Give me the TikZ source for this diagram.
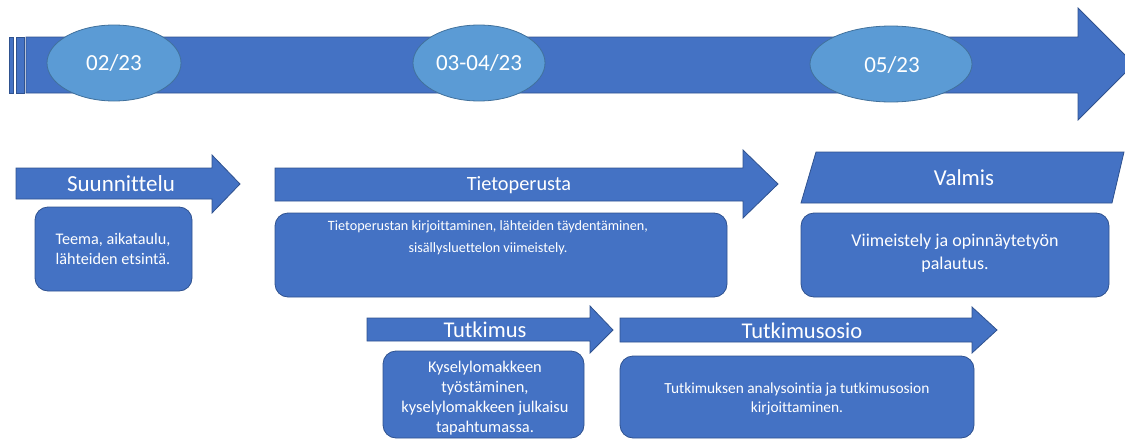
\documentclass[tikz,border=0pt]{standalone}
\usepackage{fontspec}
\setmainfont{Carlito}[Ligatures={TeX,NoCommon}]
\definecolor{boxblue}{HTML}{4472C4}
\definecolor{boxline}{HTML}{2F528F}
\definecolor{ovalblue}{HTML}{5B9BD5}
\definecolor{ovalline}{HTML}{41719C}
\begin{document}
\begin{tikzpicture}[x=1pt, y=-1pt, inner sep=0pt, outer sep=0pt,
  blk/.style={fill=boxblue, draw=boxline, line width=0.8pt, line join=miter},
  rbox/.style={blk, rounded corners=13pt},
  oval/.style={fill=ovalblue, draw=ovalline, line width=0.8pt},
  lbl/.style 2 args={text=white, align=center, font=\fontsize{#1}{#2}\selectfont}]
\clip (0,0) rectangle (1125,439);
\useasboundingbox (0,0) rectangle (1125,439);
% timeline arrow
\path[blk] (9,37) rectangle (13,93);
\path[blk] (16,37) rectangle (24,93);
\path[blk] (26,37) -- (1078,37) -- (1078,8) -- (1134,64) -- (1078,120) -- (1078,93) -- (26,93) -- cycle;
\path[oval] (114,63) ellipse (67 and 38);
\path[oval] (479,63) ellipse (66 and 38);
\path[oval] (891,64) ellipse (81 and 38);
\node[lbl={23}{27}] (d1) at (114,63) {02/23};
\node[lbl={23}{27}] (d2) at (479,63) {03-04/23};
\node[lbl={23}{27}] (d3) at (892,65) {05/23};
% phase arrows
\path[blk] (16,168) -- (212,168) -- (212,155) -- (240,184) -- (212,213) -- (212,199) -- (16,199) -- cycle;
\path[blk] (275,168) -- (743,168) -- (743,150) -- (778,184) -- (743,218) -- (743,201) -- (275,201) -- cycle;
\path[blk] (816,152) -- (1124,152) -- (1112,203) -- (801,203) -- cycle;
\path[blk] (367,318) -- (590,318) -- (590,306) -- (613,330) -- (590,353) -- (590,341) -- (367,341) -- cycle;
\path[blk] (620,318) -- (972,318) -- (972,307) -- (997,330) -- (972,353) -- (972,342) -- (620,342) -- cycle;
\node[lbl={23}{27}] (suun) at (121,184) {Suunnittelu};
\node[lbl={20.3}{24}] (tieto) at (519,185) {Tietoperusta};
\node[lbl={22.8}{27}] (valmis) at (964,178) {Valmis};
\node[lbl={22.5}{26}] (tutk) at (485,330) {Tutkimus};
\node[lbl={22.5}{26}] (osio) at (802,331) {Tutkimusosio};
% task boxes
\path[rbox] (35,207) rectangle (192,291);
\path[rbox] (275,213) rectangle (727,297);
\path[rbox] (801,213) rectangle (1109,297);
\path[rbox] (383,351) rectangle (584,438);
\path[rbox] (620,356) rectangle (974,438);
\node[lbl={16.2}{20}] (teema) at (113,249) {Teema, aikataulu,\\lähteiden etsintä.};
\node[lbl={14.2}{22}] (kirj) at (488,238) {Tietoperustan kirjoittaminen, lähteiden täydentäminen,\\sisällysluettelon viimeistely.};
\node[lbl={18}{23}] (palaut) at (955,253) {Viimeistely ja opinnäytetyön\\palautus.};
\node[lbl={16.4}{20}] (kysely) at (485,398) {Kyselylomakkeen\\työstäminen,\\kyselylomakkeen julkaisu\\tapahtumassa.};
\node[lbl={15.4}{19}] (analyysi) at (797,399) {Tutkimuksen analysointia ja tutkimusosion\\kirjoittaminen.};
\end{tikzpicture}
\end{document}
